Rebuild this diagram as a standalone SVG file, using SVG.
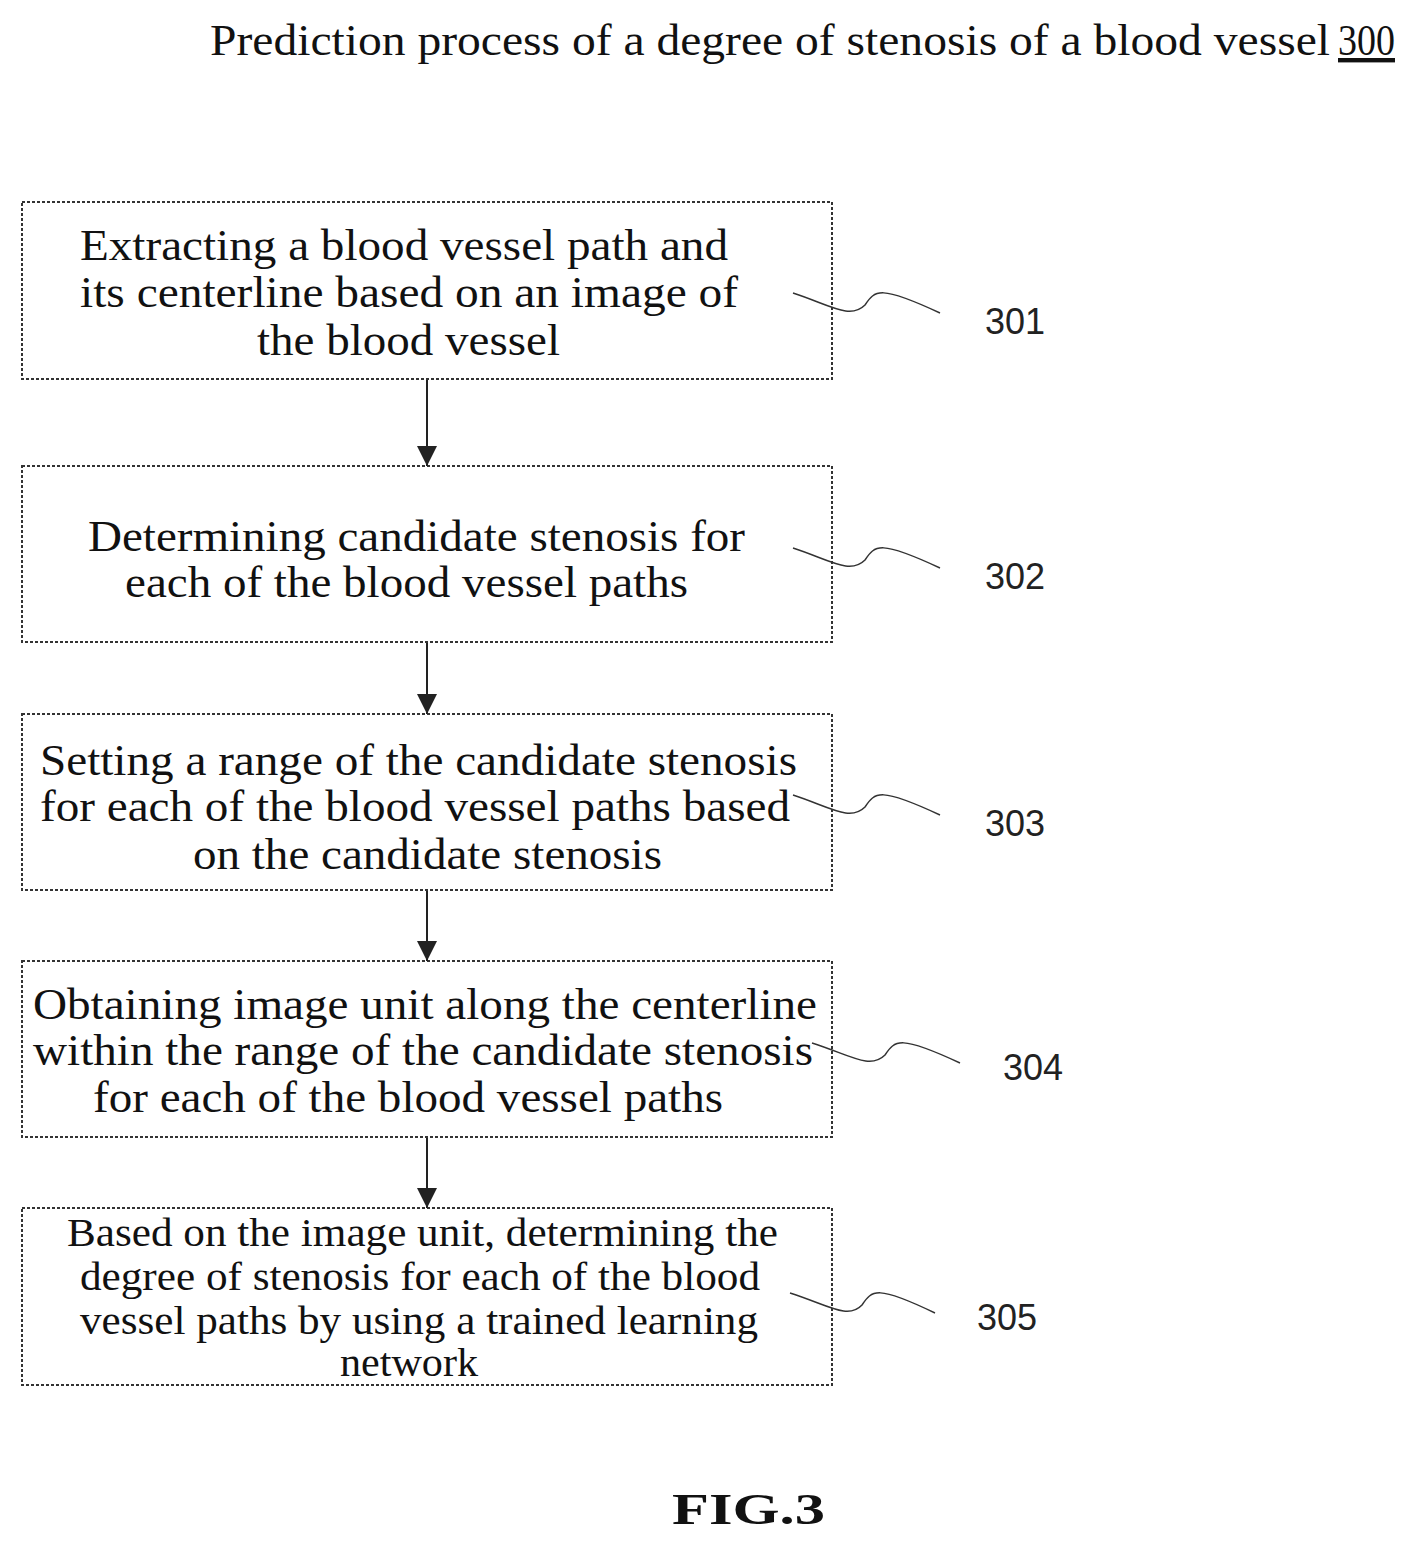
<svg xmlns="http://www.w3.org/2000/svg" width="1417" height="1543" viewBox="0 0 1417 1543">
<defs>
<marker id="ah" viewBox="0 0 10 10" refX="10" refY="5" markerWidth="20" markerHeight="22" markerUnits="userSpaceOnUse" orient="auto"><path d="M0,0 L10,5 L0,10 z" fill="#222"/></marker>
</defs>
<style>
.box{fill:#fff;stroke:#333;stroke-width:2;stroke-dasharray:3 2}
.t{font-family:"Liberation Serif",serif;font-size:44px;fill:#111}
.s{font-size:40px}
.n{font-family:"Liberation Sans",sans-serif;font-size:36px;fill:#222}
.ld{fill:none;stroke:#333;stroke-width:1.5}
.c{stroke:#222;stroke-width:2;marker-end:url(#ah)}
</style>
<rect width="1417" height="1543" fill="#fff"/>
<text x="210" y="55" class="t" textLength="1120" lengthAdjust="spacingAndGlyphs">Prediction process of a degree of stenosis of a blood vessel</text>
<text x="1338" y="55" class="t" textLength="57" lengthAdjust="spacingAndGlyphs" text-decoration="underline">300</text>
<g id="n301"><rect class="box" x="22" y="202" width="810" height="177"/>
<text class="t" x="80" y="260" textLength="648" lengthAdjust="spacingAndGlyphs">Extracting a blood vessel path and</text>
<text class="t" x="80" y="307" textLength="658" lengthAdjust="spacingAndGlyphs">its centerline based on an image of</text>
<text class="t" x="257" y="355" textLength="303" lengthAdjust="spacingAndGlyphs">the blood vessel</text>
<path class="ld" d="M793,293 C830,305 850,320 865,305 C875,290 880,285 940,313"/><text class="n" x="985" y="334">301</text></g>
<g id="n302"><rect class="box" x="22" y="466" width="810" height="176"/>
<text class="t" x="88" y="551" textLength="657" lengthAdjust="spacingAndGlyphs">Determining candidate stenosis for</text>
<text class="t" x="125" y="597" textLength="563" lengthAdjust="spacingAndGlyphs">each of the blood vessel paths</text>
<path class="ld" d="M793,548 C830,560 850,575 865,560 C875,545 880,540 940,568"/><text class="n" x="985" y="589">302</text></g>
<g id="n303"><rect class="box" x="22" y="714" width="810" height="176"/>
<text class="t" x="40" y="775" textLength="757" lengthAdjust="spacingAndGlyphs">Setting a range of the candidate stenosis</text>
<text class="t" x="40" y="821" textLength="750" lengthAdjust="spacingAndGlyphs">for each of the blood vessel paths based</text>
<text class="t" x="193" y="869" textLength="469" lengthAdjust="spacingAndGlyphs">on the candidate stenosis</text>
<path class="ld" d="M793,795 C830,807 850,822 865,807 C875,792 880,787 940,815"/><text class="n" x="985" y="836">303</text></g>
<g id="n304"><rect class="box" x="22" y="961" width="810" height="176"/>
<text class="t" x="33" y="1019" textLength="784" lengthAdjust="spacingAndGlyphs">Obtaining image unit along the centerline</text>
<text class="t" x="33" y="1065" textLength="780" lengthAdjust="spacingAndGlyphs">within the range of the candidate stenosis</text>
<text class="t" x="93" y="1112" textLength="630" lengthAdjust="spacingAndGlyphs">for each of the blood vessel paths</text>
<path class="ld" d="M812,1043 C850,1055 870,1070 885,1055 C895,1040 900,1035 960,1063"/><text class="n" x="1003" y="1080">304</text></g>
<g id="n305"><rect class="box" x="22" y="1208" width="810" height="177"/>
<text class="t s" x="67" y="1246" textLength="711" lengthAdjust="spacingAndGlyphs">Based on the image unit, determining the</text>
<text class="t s" x="80" y="1290" textLength="680" lengthAdjust="spacingAndGlyphs">degree of stenosis for each of the blood</text>
<text class="t s" x="80" y="1334" textLength="678" lengthAdjust="spacingAndGlyphs">vessel paths by using a trained learning</text>
<text class="t s" x="340" y="1376" textLength="138" lengthAdjust="spacingAndGlyphs">network</text>
<path class="ld" d="M790,1293 C828,1305 848,1320 862,1305 C872,1290 877,1285 935,1313"/><text class="n" x="977" y="1330">305</text></g>
<g id="connectors">
<line class="c" x1="427" y1="380" x2="427" y2="466"/>
<line class="c" x1="427" y1="643" x2="427" y2="714"/>
<line class="c" x1="427" y1="891" x2="427" y2="961"/>
<line class="c" x1="427" y1="1138" x2="427" y2="1208"/>
</g>
<text x="672" y="1524" class="t" font-size="68" font-weight="bold" textLength="153" lengthAdjust="spacingAndGlyphs">FIG.3</text>
</svg>
